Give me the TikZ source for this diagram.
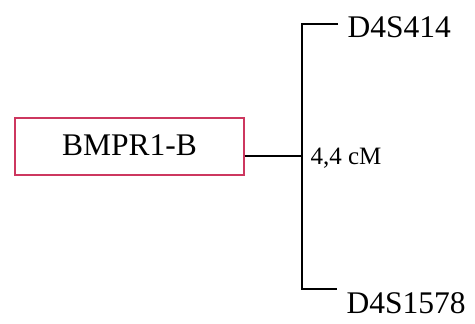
\documentclass[tikz,border=0pt]{standalone}
\usepackage{fontspec}
\setmainfont{Liberation Serif}
\definecolor{genered}{RGB}{205,55,95}
\begin{document}
\begin{tikzpicture}[x=1pt, y=1pt, line width=1.2pt,
	gene/.style={draw=genered, minimum width=229pt, minimum height=57pt, inner sep=0pt, font=\fontsize{31.5}{36}\selectfont},
	marker/.style={inner sep=0pt, font=\fontsize{31.5}{36}\selectfont},
	dist/.style={inner sep=0pt, font=\fontsize{25}{28}\selectfont}]
\useasboundingbox (0,0) rectangle (475,324);

\node[gene] (bmpr) at (129.5,177.5) {\raisebox{3pt}{BMPR1-B}};

% Marcadores
\node[marker, anchor=west] (d414) at (347,297) {D4S414};
\node[marker, anchor=west] (d1578) at (346,21) {D4S1578};

\coordinate (hub) at (302,168);
\coordinate (top) at (338,300);
\coordinate (bot) at (337,35);

\draw (bmpr.east |- hub) -- (hub);
\draw (top) -| (hub) |- (bot);

\node[dist, anchor=base west] (cm) at (310,159) {4,4 cM};
\end{tikzpicture}
\end{document}
